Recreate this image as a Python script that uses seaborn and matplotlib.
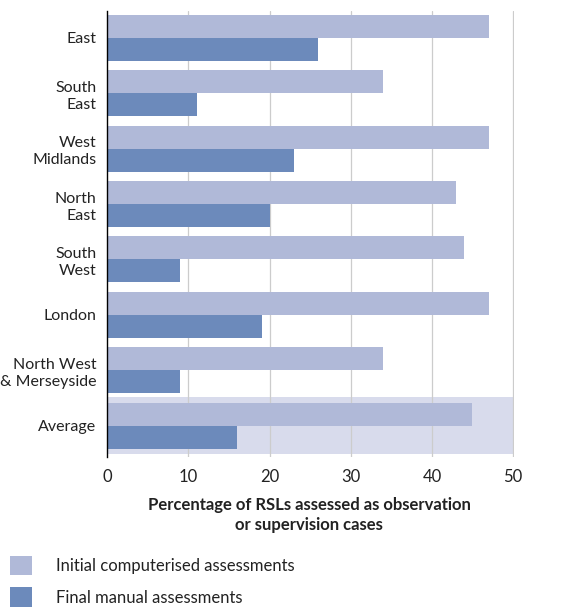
import matplotlib
matplotlib.use("Agg")
import matplotlib.pyplot as plt
import seaborn as sns
import pandas as pd
from matplotlib.patches import Patch

regions = ["East", "South\nEast", "West\nMidlands", "North\nEast", "South\nWest",
           "London", "North West\n& Merseyside", "Average"]
initial_computerised = [47, 34, 47, 43, 44, 47, 34, 45]
final_manual = [26, 11, 23, 20, 9, 19, 9, 16]
series_names = ["Initial computerised assessments", "Final manual assessments"]
x_ticks = [0, 10, 20, 30, 40, 50]

light_blue = "#b0b9d8"
dark_blue = "#6c8abb"
band_colour = "#d8dbec"
text_colour = "#222222"

df = pd.DataFrame({
    "region": regions * 2,
    "value": initial_computerised + final_manual,
    "series": [series_names[0]] * len(regions) + [series_names[1]] * len(regions),
})

sns.set_style("white")
plt.rcParams["font.family"] = ["Lato", "DejaVu Sans"]

fig = plt.figure(figsize=(5.61, 6.09), dpi=100)
ax = fig.add_axes([0.1913, 0.2496, 0.916 - 0.1913, 0.982 - 0.2496])

# highlight band behind the average row
avg_idx = regions.index("Average")
ax.axhspan(avg_idx - 0.51, avg_idx + 0.51, xmin=0, xmax=1, color=band_colour, lw=0, zorder=0)

for t in x_ticks[1:]:
    ax.axvline(t, color="#cccccc", lw=0.9, zorder=0.5)

sns.barplot(data=df, y="region", x="value", hue="series", orient="h",
            palette=[light_blue, dark_blue], width=0.83, gap=0, dodge=True,
            saturation=1, linewidth=0, ax=ax, legend=False, zorder=2)

ax.set_xlim(0, 50.1)
ax.set_ylim(avg_idx + 0.568, -0.486)
ax.set_xticks(x_ticks)
ax.set_xticklabels([str(t) for t in x_ticks])
ax.tick_params(axis="x", length=0, pad=9, labelsize=12, labelcolor=text_colour)
ax.tick_params(axis="y", length=0, pad=8, labelsize=11.5, labelcolor=text_colour)
for lbl in ax.get_yticklabels():
    lbl.set_linespacing(1.3)
ax.set_xlabel("")
ax.set_ylabel("")
for side in ["top", "right", "bottom"]:
    ax.spines[side].set_visible(False)
ax.spines["left"].set_color("black")
ax.spines["left"].set_linewidth(1.0)
ax.spines["left"].set_zorder(3)

fig.text(309 / 561, 1 - 515 / 609,
         "Percentage of RSLs assessed as observation\nor supervision cases",
         ha="center", va="center", fontsize=12, fontweight="bold",
         color=text_colour, linespacing=1.25)

handles = [Patch(facecolor=light_blue, edgecolor="none"),
           Patch(facecolor=dark_blue, edgecolor="none")]
fig.legend(handles, series_names, loc="upper left",
           bbox_to_anchor=(3 / 561, 1 - 549 / 609), frameon=False,
           fontsize=12, handlelength=1.35, handleheight=1.45,
           handletextpad=1.45, labelspacing=0.7, labelcolor=text_colour,
           borderaxespad=0)

fig.savefig("out.png", dpi=100)
